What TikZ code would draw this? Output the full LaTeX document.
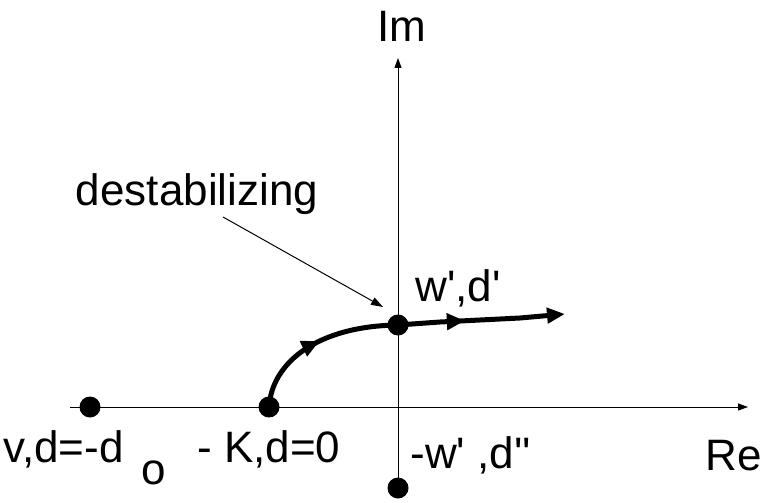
\documentclass[tikz,border=0pt]{standalone}
\usepackage{fontspec}
\setmainfont{Liberation Sans}
\usetikzlibrary{arrows.meta,decorations.markings}
\newcommand{\apos}{\textquotesingle}
\tikzset{
  ax/.style={-{Triangle[length=5pt,width=3.5pt]}, line width=0.5pt},
  pole/.style={circle, fill=black, inner sep=0pt, minimum size=10.5pt},
  lbl/.style={font=\fontsize{22}{26}\selectfont, inner sep=0pt},
  locus/.style={line width=2.5pt, line join=round},
  midarr/.style={postaction={decorate}, decoration={markings, mark=at position #1 with {\arrow{Triangle[length=9pt,width=8pt]}}}},
  note/.style={-{Triangle[length=6pt,width=4pt]}, line width=0.5pt},
}
\begin{document}
\begin{tikzpicture}[x=0.5pt,y=-0.5pt]
\useasboundingbox (0,0) rectangle (763,502);
% axes ends
\coordinate (reL) at (70,407);
\coordinate (reR) at (748,407);
\coordinate (imT) at (398,58);
% poles and points
\node[pole] (v) at (90,407) {};
\node[pole] (K) at (269,407) {};
\node[pole] (wd) at (398,325) {};
\node[pole] (wm) at (398,488) {};
\draw[ax] (reL) -- (reR);
\draw[ax] (wm.center) -- (imT);
% locus
\coordinate (tail) at (565,314);
\draw[locus, midarr=0.52] (K.center) .. controls (272,362) and (318,326) .. (wd.center);
\draw[locus, midarr=0.4, -{Triangle[length=9pt,width=7.5pt]}] (wd.center) -- (440,322) -- (520,318) -- (tail);
% note
\coordinate (noteS) at (223,217);
\coordinate (noteE) at (383,307);
\draw[note] (noteS) -- (noteE);
% labels
\node[lbl, anchor=base] (im) at (402,42) {Im};
\node[lbl, anchor=base] (re) at (734,470) {Re};
\node[lbl, anchor=base] (dst) at (197,205) {destabilizing};
\node[lbl, anchor=base west] (wdl) at (415,301) {w\apos,d\apos};
\node[lbl, anchor=base west] (wml) at (410,468) {-w\apos\ ,d\apos\apos};
\node[lbl, anchor=base west] (Kl) at (197,462) {- K,d=0};
\node[lbl, anchor=base west] (vl) at (3,462) {v,d=-d};
\node[lbl, anchor=base west] (ol) at (141,484) {o};
\end{tikzpicture}
\end{document}
